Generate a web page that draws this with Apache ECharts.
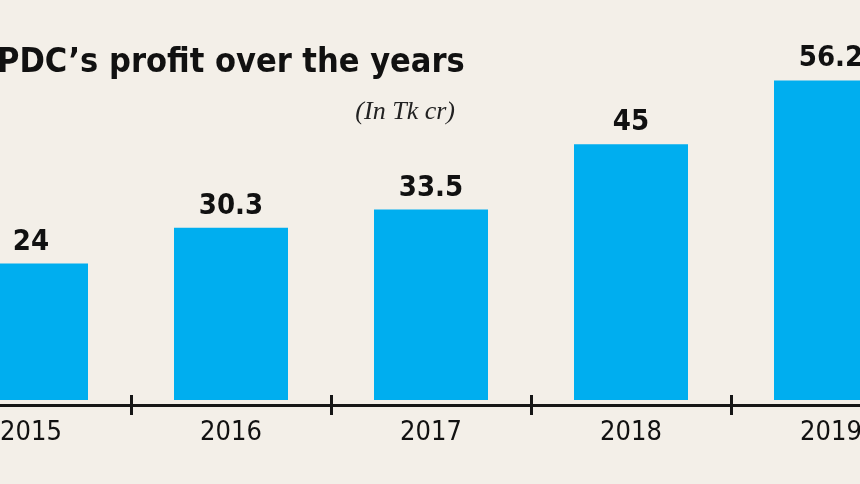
<!DOCTYPE html>
<html>
<head>
<meta charset="utf-8">
<script src="https://cdn.jsdelivr.net/npm/echarts@6/dist/echarts.min.js"></script>
<style>
html,body{margin:0;padding:0;background:#f3efe8;overflow:hidden;width:860px;height:484px;}
#c{position:absolute;left:-69px;top:0;width:1000px;height:484px;}
</style>
</head>
<body>
<div id="c"></div>
<script>
var categories = ['2015', '2016', '2017', '2018', '2019'];
var profit = [24, 30.3, 33.5, 45, 56.2];
var titleText = 'PDC\u2019s profit over the years';
var unitText = '(In Tk cr)';

var cond = "'DejaVu Sans Condensed', 'DejaVu Sans', sans-serif";
var chart = echarts.init(document.getElementById('c'));
var axisColor = '#161616';
chart.setOption({
  backgroundColor: '#f3efe8',
  animation: false,
  title: [
    {
      text: titleText,
      left: 66, top: 46, padding: 0,
      textStyle: {fontFamily: cond, fontWeight: 'bold', fontSize: 34, color: '#111'}
    },
    {
      text: unitText,
      right: 476, top: 99, padding: 0,
      textStyle: {fontFamily: 'Liberation Serif', fontStyle: 'italic', fontWeight: 'normal', fontSize: 26, color: '#222'}
    }
  ],
  grid: {left: 0, right: 0, top: 2, bottom: 84, containLabel: false},
  xAxis: [
    {
      type: 'category', data: categories, position: 'bottom', offset: 5,
      axisLine: {show: true, onZero: false, lineStyle: {color: axisColor, width: 3}},
      axisTick: {show: true, inside: false, length: 10, lineStyle: {color: axisColor, width: 3}},
      axisLabel: {margin: 14, fontFamily: cond, fontSize: 27, color: '#111'}
    },
    {
      type: 'category', data: categories, position: 'bottom', offset: 5,
      axisLine: {show: false, onZero: false},
      axisTick: {show: true, inside: true, length: 10, lineStyle: {color: axisColor, width: 3}},
      axisLabel: {show: false}
    }
  ],
  yAxis: {type: 'value', min: 0, max: 70, show: false, splitLine: {show: false}},
  series: [{
    type: 'bar', data: profit, barWidth: 114, xAxisIndex: 0,
    itemStyle: {color: '#00aeef'},
    label: {
      show: true, position: 'top', distance: 7,
      fontFamily: cond, fontWeight: 'bold', fontSize: 29, color: '#111'
    }
  }]
});
</script>
</body>
</html>
